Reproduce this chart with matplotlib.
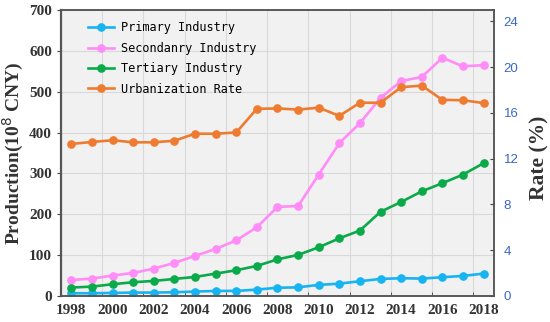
import numpy as np
import matplotlib
matplotlib.use('Agg')
import matplotlib.pyplot as plt

# data (1998-2018)
years = list(range(1998, 2019))
primary = [6.5, 6.5, 7.3, 8.2, 8.2, 9.0, 10.6, 12.2, 12.2, 15.5, 20.0, 21.0, 27.0, 30.0, 36.0,
           41.6, 43.3, 42.5, 45.7, 49.0, 54.6]
secondary = [39, 42.4, 49.8, 56.3, 66.9, 80.8, 97.9, 115, 136, 168, 218, 220, 297, 374, 423,
             485, 526, 536, 583, 562, 565]
tertiary = [20.5, 22.8, 28.6, 33.5, 36.7, 41.6, 46.5, 54.6, 62.9, 73.4, 89.5, 100.4, 119, 141, 160,
            206, 230, 256, 276, 297, 325]
urban_rate = [13.29, 13.46, 13.61, 13.43, 13.43, 13.57, 14.18, 14.18, 14.29, 16.36, 16.39, 16.29,
              16.46, 15.74, 16.89, 16.89, 18.25, 18.39, 17.14, 17.11, 16.86]

x = np.arange(len(years))
c_blue = '#16B4F0'
c_pink = '#FF8CF7'
c_green = '#0AAA4A'
c_orange = '#EE7B30'

fig = plt.figure(figsize=(5.5, 3.22), dpi=100)
ax = fig.add_axes([0.111, 0.081, 0.787, 0.888])
ax.set_facecolor('#F1F1F1')
ax2 = ax.twinx()

lkw = dict(lw=1.9, marker='o', ms=5.2)
l1, = ax.plot(x, primary, color=c_blue, label='Primary Industry', **lkw)
l2, = ax.plot(x, secondary, color=c_pink, label='Secondanry Industry', **lkw)
l3, = ax.plot(x, tertiary, color=c_green, label='Tertiary Industry', **lkw)
l4, = ax2.plot(x, urban_rate, color=c_orange, label='Urbanization Rate', **lkw)

ax.set_xlim(-0.5, 20.5)
ax.set_ylim(0, 700)
ax2.set_ylim(0, 25)

# labels sit under the points, ticks and grid half a step to the left
ax.set_xticks(x[::2])
ax.set_xticklabels([str(y) for y in years[::2]])
ax.set_xticks(np.arange(-0.5, 20, 2), minor=True)
ax.tick_params(axis='x', which='major', length=0, pad=6)
ax.tick_params(axis='x', which='minor', direction='in', length=3, color='#444444')
ax.set_yticks(np.arange(0, 701, 100))
ax.tick_params(axis='y', direction='out', length=3, color='#444444')
ax.grid(True, which='minor', axis='x', color='#D9D9D9', lw=0.8)
ax.grid(True, which='major', axis='y', color='#D9D9D9', lw=0.8)
ax.set_axisbelow(True)

for lab in ax.get_xticklabels() + ax.get_yticklabels():
    lab.set_family('Liberation Serif')
    lab.set_fontweight('bold')
    lab.set_fontsize(11)
    lab.set_color('#333333')

ax2.set_yticks(np.arange(0, 25, 4))
ax2.tick_params(axis='y', direction='in', length=3, color='#444444', labelcolor='#3A66C8',
                labelsize=9.5, pad=7)
for lab in ax2.get_yticklabels():
    lab.set_family('Liberation Sans')

for a in (ax, ax2):
    for s in a.spines.values():
        s.set_color('#555555')
        s.set_linewidth(1.1)
ax.spines['left'].set_linewidth(1.6)

# axis titles placed by hand so they sit where the reference has them
fig.text(13 / 550, 1 - 153.5 / 322, 'Production(10$^8$ CNY)', rotation=90,
         ha='center', va='center', family='Liberation Serif', fontweight='bold',
         fontsize=14, color='#333333')
fig.text(539 / 550, 1 - 158 / 322, 'Rate (%)', rotation=90,
         ha='center', va='center', family='Liberation Serif', fontweight='bold',
         fontsize=15.5, color='#333333')

leg = ax2.legend(handles=[l1, l2, l3, l4], loc='upper left', frameon=False,
                 prop={'family': 'DejaVu Sans Mono', 'size': 8.6},
                 handlelength=2.2, handletextpad=0.6, labelspacing=0.62,
                 bbox_to_anchor=(0.045, 0.985), borderaxespad=0.2)

fig.savefig('out.png', dpi=100)
